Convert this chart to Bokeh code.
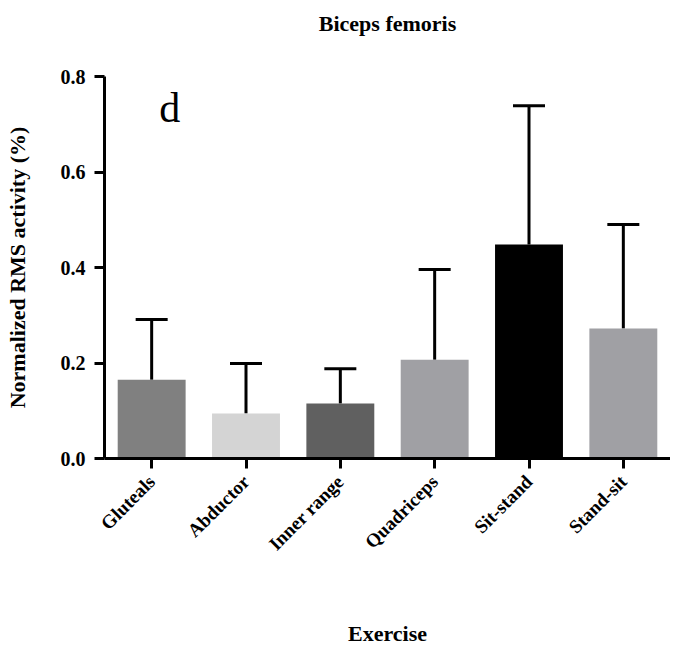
from math import pi
from bokeh.plotting import figure
from bokeh.models import (ColumnDataSource, FactorRange, Range1d, FixedTicker,
                          Whisker, TeeHead, Label, NumeralTickFormatter, CategoricalAxis)
from bokeh.embed import file_html
from bokeh.resources import INLINE

# ---- data ----
exercises = ["Gluteals", "Abductor", "Inner range", "Quadriceps", "Sit-stand", "Stand-sit"]
mean_rms = [0.165, 0.094, 0.115, 0.207, 0.448, 0.272]
sd_rms = [0.126, 0.105, 0.073, 0.189, 0.291, 0.218]
bar_colors = ["#808080", "#d4d4d4", "#606060", "#a0a0a4", "#000000", "#a0a0a4"]
y_ticks = [0.0, 0.2, 0.4, 0.6, 0.8]
panel_letter = "d"
chart_title = "Biceps femoris"

upper = [m + s for m, s in zip(mean_rms, sd_rms)]
src = ColumnDataSource(dict(cat=exercises, mean=mean_rms, upper=upper, color=bar_colors))

FONT = "Liberation Serif"

p = figure(frame_width=566, frame_height=382,
           x_range=FactorRange(*exercises, range_padding=0),
           y_range=Range1d(0, 0.8), output_backend="svg", toolbar_location=None,
           min_border_left=104, min_border_right=0,
           min_border_top=76, min_border_bottom=0)

xb = p.below[0]
yl = p.left[0]

p.vbar(x="cat", top="mean", width=0.72, fill_color="color", line_color=None, source=src)

wh = Whisker(source=src, base="cat", lower="mean", upper="upper", line_width=3,
             line_color="black", lower_head=None,
             upper_head=TeeHead(size=32, line_width=3, line_color="black"))
p.add_layout(wh)

p.add_layout(Label(x=0.58, y=0.733, text=panel_letter, text_font=FONT,
                   text_font_size="42px", text_color="black", text_align="left",
                   text_baseline="middle"))

p.xgrid.visible = False
p.ygrid.visible = False
p.outline_line_color = None
p.background_fill_color = "white"
p.border_fill_color = "white"

for ax in (xb, yl):
    ax.axis_line_width = 3
    ax.axis_line_color = "black"
    ax.major_tick_line_width = 3
    ax.major_tick_line_color = "black"
    ax.major_tick_out = 10
    ax.major_tick_in = 0
    ax.minor_tick_line_color = None
    ax.major_label_text_font = FONT
    ax.major_label_text_font_style = "bold"
    ax.major_label_text_color = "black"
    ax.axis_label_text_font = FONT
    ax.axis_label_text_font_style = "bold"
    ax.axis_label_text_color = "black"
    ax.axis_label_text_font_size = "22px"

yl.ticker = FixedTicker(ticks=y_ticks)
yl.formatter = NumeralTickFormatter(format="0.0")
yl.major_label_text_font_size = "20px"
yl.major_label_standoff = 9
yl.axis_label = "Normalized RMS activity (%)"
yl.axis_label_standoff = 28

xb.major_label_orientation = pi / 4
xb.major_label_text_font_size = "19px"
xb.major_label_standoff = 10
xb.axis_label = "Exercise"
xb.axis_label_standoff = 56

# title as the label of a bare axis above the frame
top_axis = CategoricalAxis(axis_label=chart_title)
top_axis.axis_line_color = None
top_axis.major_tick_line_color = None
top_axis.major_tick_out = 0
top_axis.major_tick_in = 0
top_axis.minor_tick_line_color = None
top_axis.major_label_text_font_size = "0px"
top_axis.major_label_text_color = None
top_axis.major_label_standoff = 0
top_axis.axis_label_text_font = FONT
top_axis.axis_label_text_font_style = "bold"
top_axis.axis_label_text_font_size = "22px"
top_axis.axis_label_text_color = "black"
top_axis.axis_label_standoff = 41
p.add_layout(top_axis, "above")

open("out.html", "w").write(file_html(p, INLINE))
